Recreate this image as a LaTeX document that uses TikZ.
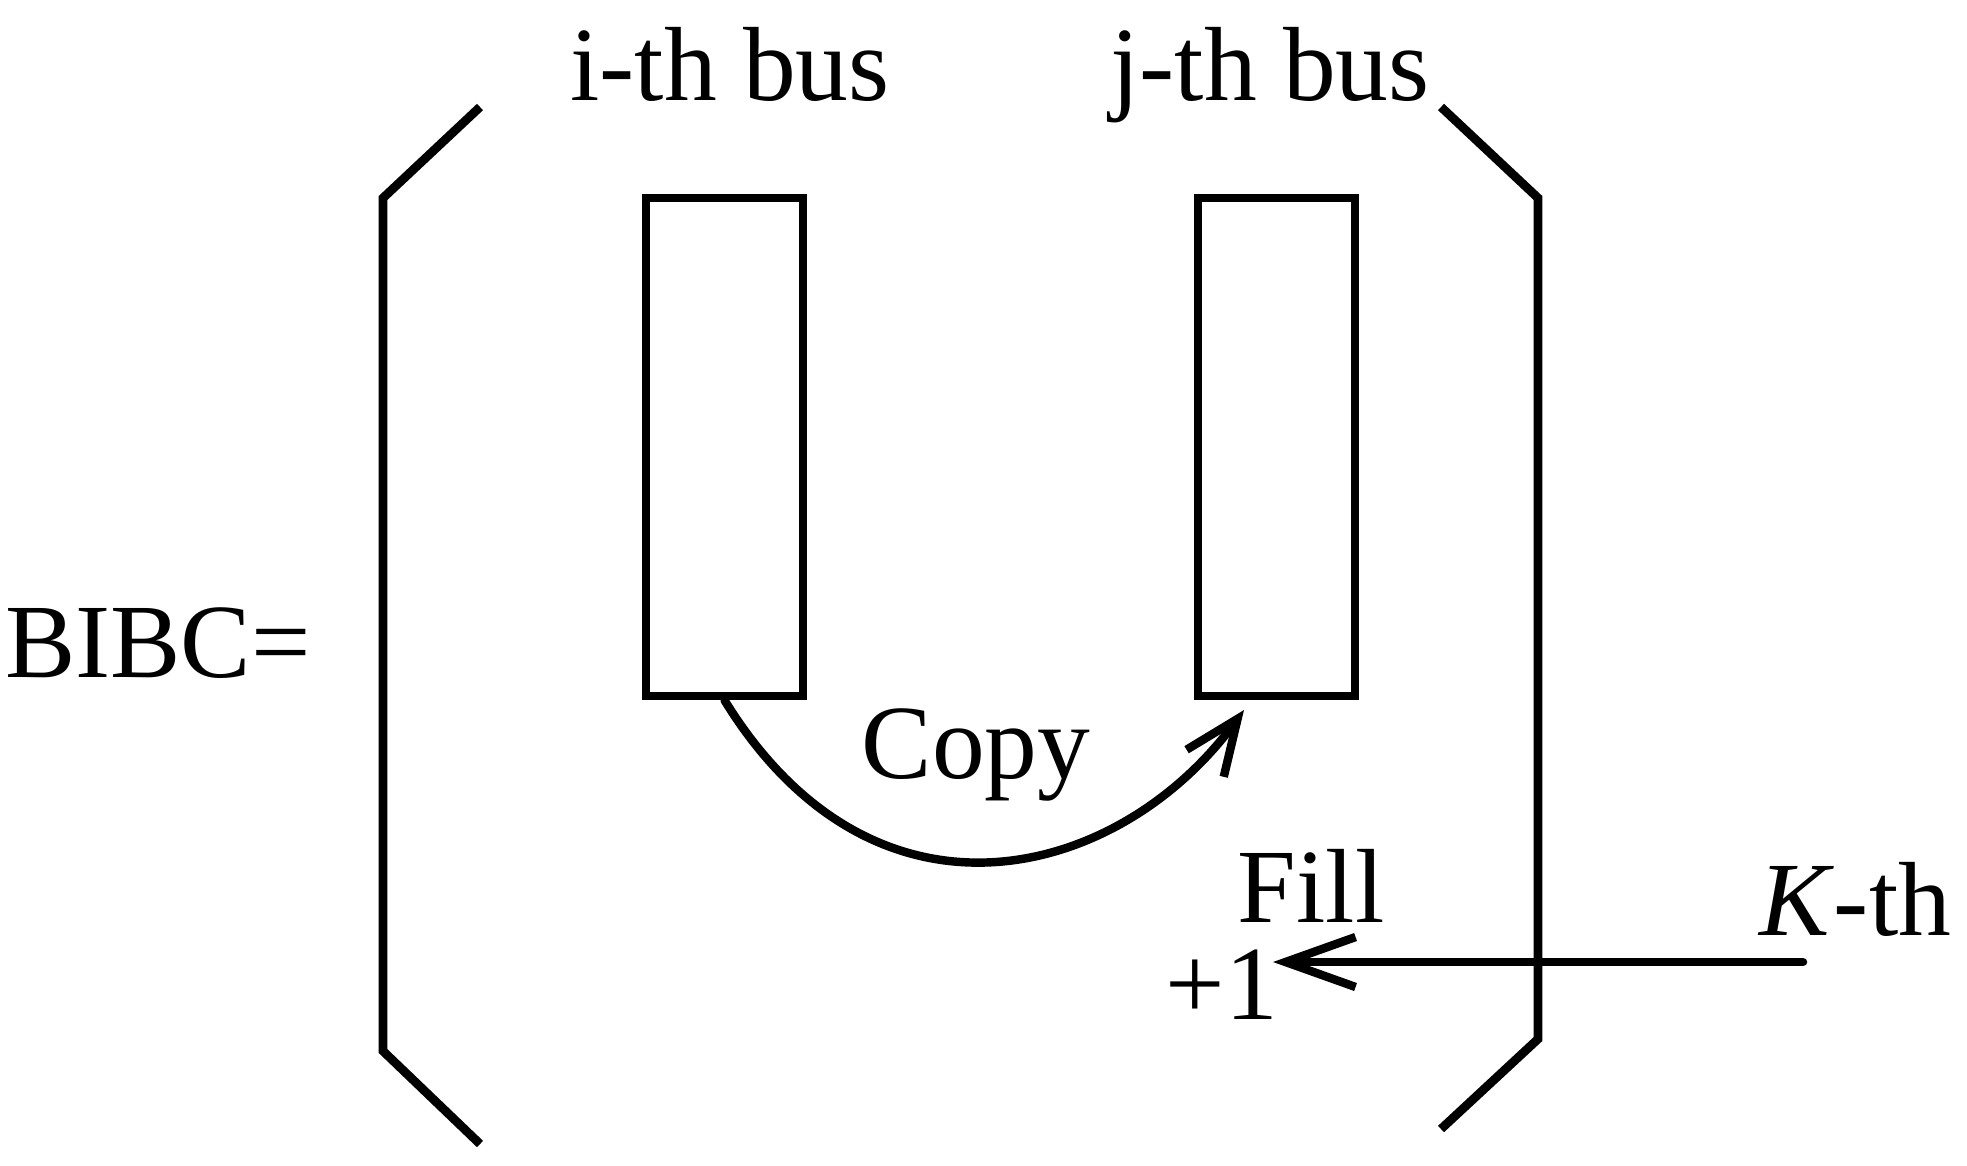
\documentclass[tikz,border=0pt]{standalone}
\usepackage{fontspec}
\setmainfont{Liberation Serif}
\usetikzlibrary{arrows.meta}

\begin{document}
\begin{tikzpicture}[
    every node/.style={font=\fontsize{30}{36}\selectfont, inner sep=0pt},
    bracket/.style={line width=2.5pt},
    busbox/.style={draw, line width=2.4pt, minimum width=1.57cm, minimum height=4.98cm},
    arr/.style={line width=2.4pt, line cap=round, -{Straight Barb[length=7mm,width=5mm]}},
    copyarr/.style={arr, -{Straight Barb[length=5.5mm,width=4.6mm]}}
]

\useasboundingbox (0,0) rectangle (19.67,11.65);

%------------------------------------------------
% Brackets
%------------------------------------------------

\draw[bracket] (4.80,10.58) -- (3.83,9.67) -- (3.83,1.14) -- (4.80,0.21);
\draw[bracket] (14.41,10.58) -- (15.38,9.67) -- (15.38,1.26) -- (14.41,0.36);

%------------------------------------------------
% Bus columns
%------------------------------------------------

\node[busbox] (ibus) at (7.245,7.18) {};
\node[busbox] (jbus) at (12.765,7.18) {};

\node[anchor=base] (ilabel) at (7.30,10.65) {i-th bus};
\node[anchor=base] (jlabel) at (12.70,10.65) {j-th bus};

%------------------------------------------------
% Matrix name
%------------------------------------------------

\node[anchor=base] (bibc) at (1.58,4.88) {BIBC=};

%------------------------------------------------
% Copy
%------------------------------------------------

\coordinate (jtip) at (12.44,4.55);
\draw[copyarr] (ibus.south) .. controls (8.75,2.2) and (11.2,2.85) .. (jtip);
\node[anchor=base] (copy) at (9.76,3.87) {Copy};

%------------------------------------------------
% Fill
%------------------------------------------------

\node[anchor=base] (kth) at (18.55,2.30) {\textit{K}-th};
\node[anchor=base] (fill) at (13.11,2.43) {Fill};
\node[anchor=base] (plus) at (12.22,1.46) {+1};

\coordinate (kstart) at (18.03,2.03);
\coordinate (fillend) at (12.73,2.03);
\draw[arr] (kstart) -- (fillend);

\end{tikzpicture}
\end{document}
